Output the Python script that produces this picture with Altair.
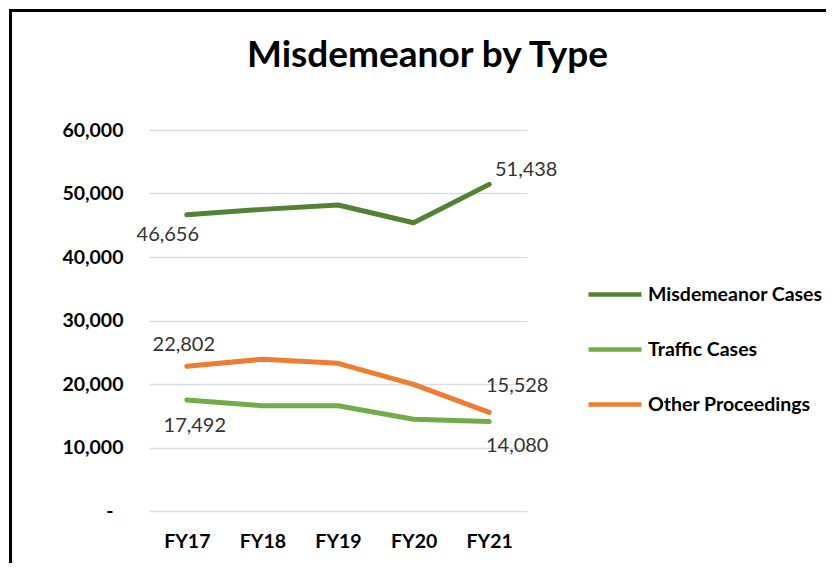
import altair as alt
import pandas as pd

years = ["FY17", "FY18", "FY19", "FY20", "FY21"]
series_names = ["Misdemeanor Cases", "Traffic Cases", "Other Proceedings"]
misdemeanor = [46656, 47500, 48190, 45400, 51438]
traffic = [17492, 16580, 16580, 14440, 14080]
other = [22802, 23890, 23260, 19950, 15528]
colors = ["#548235", "#70AD47", "#ED7D31"]
y_ticks = [0, 10000, 20000, 30000, 40000, 50000, 60000]

rows = []
for name, vals in zip(series_names, [misdemeanor, traffic, other]):
    for yr, v in zip(years, vals):
        rows.append({"year": yr, "series": name, "value": v})
df = pd.DataFrame(rows)

FONT = "Lato"
W, H = 378, 381

x_enc = alt.X("year:N", sort=years,
              scale=alt.Scale(type="point", padding=0.5),
              axis=alt.Axis(title=None, labelFont=FONT, labelFontWeight="bold",
                            labelFontSize=19.5, labelColor="#000000", labelPadding=21,
                            domain=False, ticks=False, grid=False, labelAngle=0))
y_enc = alt.Y("value:Q", scale=alt.Scale(domain=[0, 60000], nice=False),
              axis=alt.Axis(title=None, values=y_ticks, labelFont=FONT,
                            labelFontWeight="bold", labelFontSize=19.5,
                            labelColor="#000000",
                            labelPadding={"condition": {"test": "datum.value == 0", "value": 36},
                                          "value": 26},
                            labelExpr="datum.value == 0 ? '-' : format(datum.value, ',')",
                            domain=False, ticks=False, grid=True,
                            gridColor="#D9DDE6", gridWidth=1.5))

lines = alt.Chart(df).mark_line(strokeWidth=5, strokeCap="round", strokeJoin="round").encode(
    x=x_enc, y=y_enc,
    color=alt.Color("series:N", sort=series_names,
                    scale=alt.Scale(domain=series_names, range=colors),
                    legend=alt.Legend(title=None, orient="none", legendX=437, legendY=135.5,
                                      symbolType="stroke", symbolSize=2809,
                                      symbolStrokeWidth=4.5, labelFont=FONT,
                                      labelFontWeight="bold", labelFontSize=19.5,
                                      labelColor="#000000", labelOffset=4,
                                      labelLimit=400, rowPadding=16, padding=0)),
)


def label(series, year, dx, dy):
    return alt.Chart(df).transform_filter(
        (alt.datum.series == series) & (alt.datum.year == year)
    ).mark_text(font=FONT, fontSize=20, color="#333333", dx=dx, dy=dy,
                align="center", baseline="middle").encode(
        x=alt.X("year:N", sort=years, scale=alt.Scale(type="point", padding=0.5)),
        y=alt.Y("value:Q"),
        text=alt.Text("value:Q", format=","),
    )


labels = [
    label("Misdemeanor Cases", "FY17", -19, 20),
    label("Misdemeanor Cases", "FY21", 37, -14),
    label("Other Proceedings", "FY17", -3, -21),
    label("Traffic Cases", "FY17", 8, 26),
    label("Other Proceedings", "FY21", 28, -26),
    label("Traffic Cases", "FY21", 28, 24),
]

border_data = alt.Data(values=[{"a": 1}])
top_border = alt.Chart(border_data).mark_rule(color="#000000", strokeWidth=3).encode(
    x=alt.value(-138.5), x2=alt.value(700), y=alt.value(-119.5))
left_border = alt.Chart(border_data).mark_rule(color="#000000", strokeWidth=3).encode(
    x=alt.value(-138.5), y=alt.value(-121), y2=alt.value(440))

chart = alt.layer(lines, *labels, top_border, left_border).properties(
    width=W, height=H,
    autosize=alt.AutoSizeParams(type="none"),
    padding={"left": 141, "top": 122, "right": 299, "bottom": 52},
    title=alt.TitleParams("Misdemeanor by Type", font=FONT, fontSize=37,
                          fontWeight="bold", color="#000000", anchor="middle",
                          dx=89.5, offset=-96, baseline="alphabetic"),
).configure_view(stroke=None)

chart.save("out.html", embed_options={"renderer": "svg", "actions": False})
